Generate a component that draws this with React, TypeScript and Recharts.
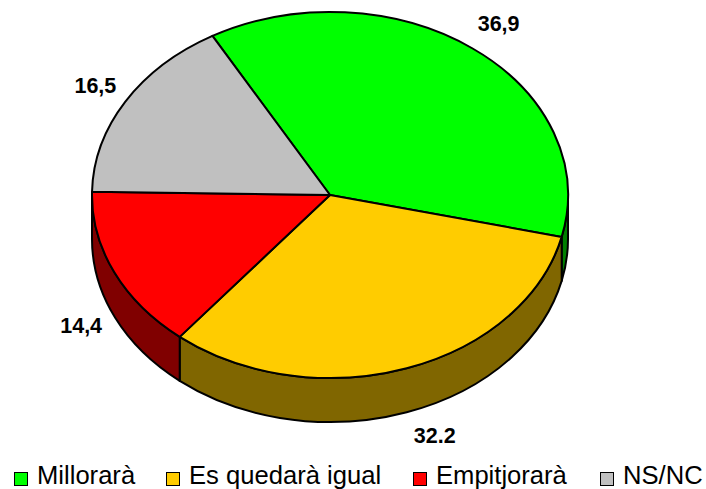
import React from "react";
import { PieChart, Pie, Legend } from "recharts";

const categories = ["Millorarà", "Es quedarà igual", "Empitjorarà", "NS/NC"];
const values = [36.9, 32.2, 14.4, 16.5];
const valueLabels = ["36,9", "32.2", "14,4", "16,5"];
const topColors = ["#00FF00", "#FFCC00", "#FF0000", "#C0C0C0"];
const sideColors = ["#008000", "#806600", "#800000", "#606060"];

const data = categories.map((name, i) => ({ name, value: values[i] }));

const FONT = "'Liberation Sans', Arial, sans-serif";
const CX = 330;
const CY = 195;
const RX = 238;
const RY = 183;
const DEPTH = 44;
const START = 119.6;
const RAD = Math.PI / 180;

const pt = (cx: number, cy: number, rx: number, a: number, dy = 0) => {
  const ry = rx * (RY / RX);
  return `${cx + rx * Math.cos(a * RAD)} ${cy - ry * Math.sin(a * RAD) + dy}`;
};

const TopFace = (p: any) => {
  const { cx, cy, outerRadius: rx, startAngle: s, endAngle: e, index } = p;
  const ry = rx * (RY / RX);
  const large = Math.abs(s - e) > 180 ? 1 : 0;
  return (
    <path
      d={`M${cx} ${cy} L${pt(cx, cy, rx, s)} A${rx} ${ry} 0 ${large} 1 ${pt(cx, cy, rx, e)} Z`}
      fill={topColors[index]}
      stroke="#000"
      strokeWidth={2}
      strokeLinejoin="round"
    />
  );
};

const SideWall = (p: any) => {
  const { cx, cy, outerRadius: rx, startAngle: s, endAngle: e, index } = p;
  const ry = rx * (RY / RX);
  const hi = Math.min(s, 0);
  const lo = Math.max(e, -180);
  if (hi <= lo) return <g />;
  return (
    <path
      d={`M${pt(cx, cy, rx, hi)} A${rx} ${ry} 0 0 1 ${pt(cx, cy, rx, lo)} L${pt(cx, cy, rx, lo, DEPTH)} A${rx} ${ry} 0 0 0 ${pt(cx, cy, rx, hi, DEPTH)} Z`}
      fill={sideColors[index]}
      stroke="#000"
      strokeWidth={2}
      strokeLinejoin="round"
    />
  );
};

const labelNudges = [
  [26, -25],
  [28, 68],
  [-33, 54],
  [-30, -16],
];

const ValueLabel = (p: any) => {
  const { cx, cy, outerRadius: rx, midAngle, index } = p;
  const ry = rx * (RY / RX);
  const x = cx + rx * Math.cos(midAngle * RAD) + labelNudges[index][0];
  const y = cy - ry * Math.sin(midAngle * RAD) + labelNudges[index][1];
  return (
    <text
      x={x}
      y={y}
      textAnchor="middle"
      dominantBaseline="central"
      fontFamily={FONT}
      fontWeight="bold"
      fontSize={21.5}
      fill="#000"
    >
      {valueLabels[index]}
    </text>
  );
};

const legendLefts = [14, 166, 413, 600];

const LegendContent = ({ payload }: any) => {
  const names = (payload || []).map((entry: any) => entry.value);
  return (
    <div style={{ position: "relative", width: 706, height: 27, fontFamily: FONT, fontSize: 25.6, color: "#000" }}>
      {categories
        .filter((c) => names.includes(c))
        .map((c) => {
          const i = categories.indexOf(c);
          return (
            <div key={c} style={{ position: "absolute", left: legendLefts[i], top: 0, whiteSpace: "nowrap", lineHeight: "27px" }}>
              <span
                style={{
                  position: "absolute",
                  left: 0,
                  top: 10,
                  width: 12,
                  height: 12,
                  border: "1.5px solid #000",
                  background: topColors[i],
                }}
              />
              <span style={{ position: "absolute", left: 23, top: 0 }}>{c}</span>
            </div>
          );
        })}
    </div>
  );
};

export default function App() {
  return (
    <div style={{ position: "absolute", left: 0, top: 0, width: 706, height: 489, background: "#fff", overflow: "hidden" }}>
      <PieChart width={706} height={489} margin={{ top: 0, right: 0, bottom: 0, left: 0 }}>
        <Pie
          data={data}
          dataKey="value"
          nameKey="name"
          cx={CX}
          cy={CY}
          outerRadius={RX}
          startAngle={START}
          endAngle={START - 360}
          shape={SideWall}
          legendType="none"
          isAnimationActive={false}
        />
        <Pie
          data={data}
          dataKey="value"
          nameKey="name"
          cx={CX}
          cy={CY}
          outerRadius={RX}
          startAngle={START}
          endAngle={START - 360}
          shape={TopFace}
          label={ValueLabel}
          labelLine={false}
          isAnimationActive={false}
        />
        <Legend
          content={LegendContent}
          wrapperStyle={{ position: "absolute", left: 0, top: 462, width: 706, height: 27 }}
        />
      </PieChart>
    </div>
  );
}
